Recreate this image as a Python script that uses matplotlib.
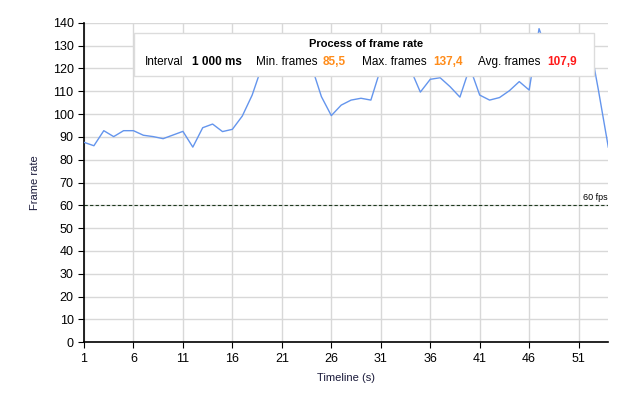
import matplotlib
matplotlib.use("Agg")
import matplotlib.pyplot as plt
from matplotlib.patches import Rectangle

# data
seconds = list(range(1, 55))
frame_rate = [87.6, 86.1, 92.7, 90.1, 92.7, 92.7, 90.7, 90.1, 89.2, 90.8,
              92.4, 85.5, 94.0, 95.6, 92.3, 93.3, 99.1, 108.3, 121.0, 126.0,
              129.0, 127.0, 124.0, 121.0, 107.6, 99.3, 103.9, 106.1, 106.9, 106.1,
              120.0, 124.0, 126.0, 119.7, 109.6, 115.2, 115.9, 112.0, 107.4, 120.5,
              108.3, 106.1, 107.2, 110.2, 114.2, 110.5, 137.4, 125.0, 122.0, 124.0,
              120.3, 134.0, 110.5, 85.5]
x_ticks = [1, 6, 11, 16, 21, 26, 31, 36, 41, 46, 51]
y_ticks = list(range(0, 141, 10))
fps_target = 60

legend_title = "Process of frame rate"
legend_items = [("Interval", "1 000 ms", "black"),
                ("Min. frames", "85,5", "#ff8c1a"),
                ("Max. frames", "137,4", "#ff8c1a"),
                ("Avg. frames", "107,9", "#ff1a1a")]

plt.rcParams['font.family'] = ['Liberation Sans', 'DejaVu Sans']

W, H = 628, 404
fig = plt.figure(figsize=(W / 100, H / 100), dpi=100)
ax = fig.add_axes([84 / W, 1 - 342.3 / H, (608.3 - 84) / W, (342.3 - 22.7) / H])

ax.plot(seconds, frame_rate, color='#6495ed', linewidth=1.0, zorder=3)
ax.axhline(fps_target, color='#1e3a1e', linestyle=(0, (3, 2)), linewidth=0.8, zorder=2)
ax.text(53.9, fps_target + 1.5, "60 fps", fontsize=6.5, ha='right', va='bottom')

ax.set_xlim(1, 54)
ax.set_ylim(0, 140)
ax.set_xticks(x_ticks)
ax.set_yticks(y_ticks)
ax.tick_params(labelsize=9, length=4, width=0.8, colors='black', direction='out')
ax.grid(True, color='#d8d8d8', linewidth=1.0)
ax.set_axisbelow(True)
for side in ['top', 'right']:
    ax.spines[side].set_visible(False)
for side in ['left', 'bottom']:
    ax.spines[side].set_linewidth(1.2)

ax.set_xlabel("Timeline (s)", fontsize=8, color='#1a1a3a', labelpad=6)
ax.set_ylabel("Frame rate", fontsize=8, color='#1a1a3a', labelpad=9)

# legend box drawn over the plot
def fx(px):
    return px / W

def fy(py):
    return 1 - py / H

box = Rectangle((fx(133.5), fy(75.7)), fx(593.7) - fx(133.5), fy(32.5) - fy(75.7),
                transform=fig.transFigure, facecolor='white', edgecolor='#dcdcdc',
                linewidth=1.0, zorder=5)
fig.patches.append(box)
fig.text(fx(366), fy(44), legend_title, fontsize=8, fontweight='bold',
         ha='center', va='center', zorder=6)
label_x = [145, 256, 362, 478]
value_x = [192, 323, 433, 547]
for (lab, val, col), lx, vx in zip(legend_items, label_x, value_x):
    fig.text(fx(lx), fy(62), lab, fontsize=8.5, ha='left', va='center', zorder=6)
    fig.text(fx(vx), fy(62), val, fontsize=8.5, fontweight='bold', color=col,
             ha='left', va='center', zorder=6)

fig.savefig("out.png", dpi=100)
